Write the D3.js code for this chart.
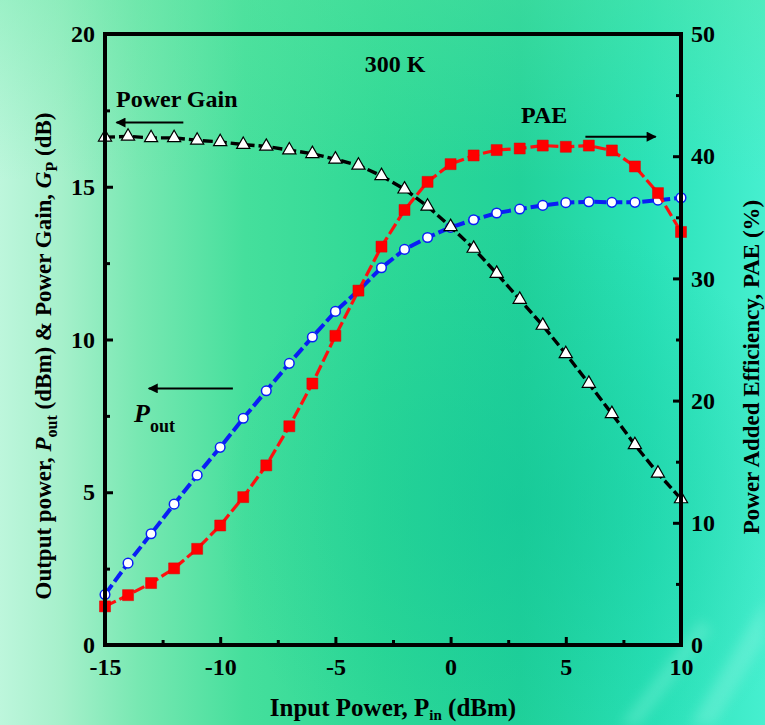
<!DOCTYPE html>
<html>
<head>
<meta charset="utf-8">
<script src="https://cdn.jsdelivr.net/npm/d3@7"></script>
<style>
  html, body { margin: 0; padding: 0; background: #3edb9a; }
  svg { display: block; font-family: "Liberation Serif", "Times New Roman", serif; font-weight: bold; }
</style>
</head>
<body>
<div id="chart"></div>
<script>
// Power amplifier sweep at 300 K

// Data
const pin = [-15, -14, -13, -12, -11, -10, -9, -8, -7, -6, -5, -4, -3, -2, -1, 0, 1, 2, 3, 4, 5, 6, 7, 8, 9, 10];
const pout = [1.65, 2.68, 3.64, 4.61, 5.56, 6.47, 7.42, 8.32, 9.22, 10.08, 10.92, 11.6, 12.35, 12.95, 13.34, 13.67,
              13.92, 14.14, 14.27, 14.39, 14.48, 14.51, 14.49, 14.49, 14.56, 14.64];
const gain = [16.62, 16.65, 16.6, 16.6, 16.52, 16.47, 16.38, 16.32, 16.2, 16.08, 15.9, 15.7, 15.36, 14.92, 14.36, 13.69,
              12.98, 12.16, 11.31, 10.46, 9.53, 8.56, 7.57, 6.55, 5.62, 4.78];
const pae = [3.16, 4.08, 5.07, 6.27, 7.87, 9.78, 12.1, 14.7, 17.9, 21.4, 25.3, 29.0, 32.6, 35.6, 37.9, 39.35,
             40.06, 40.5, 40.63, 40.87, 40.77, 40.87, 40.47, 39.16, 36.98, 33.8];

const xTicks = [-15, -10, -5, 0, 5, 10];
const xMinor = [-12.5, -7.5, -2.5, 2.5, 7.5];
const yLeftTicks = [0, 5, 10, 15, 20];
const yLeftMinor = [2.5, 7.5, 12.5, 17.5];
const yRightTicks = [0, 10, 20, 30, 40, 50];
const yRightMinor = [5, 15, 25, 35, 45];

// Setup dimensions
const width = 765, height = 725;
const plotLeft = 105, plotRight = 681, plotTop = 34, plotBottom = 645;

const svg = d3.select("#chart").append("svg")
    .attr("width", width)
    .attr("height", height);

// Background gradient
const defs = svg.append("defs");
const bg = defs.append("linearGradient").attr("id", "bg").attr("x1", 0).attr("x2", 1).attr("y1", 0).attr("y2", 0);
[["0%", "#bdf6dc"], ["8%", "#a6f0cb"], ["18%", "#78e8b2"], ["32%", "#45df9c"], ["50%", "#2ed996"],
 ["68%", "#22d29a"], ["85%", "#2ae2b8"], ["100%", "#46efcf"]]
    .forEach(s => bg.append("stop").attr("offset", s[0]).attr("stop-color", s[1]));

const dark = defs.append("radialGradient").attr("id", "dark").attr("cx", 0.68).attr("cy", 0.7).attr("r", 0.4);
dark.append("stop").attr("offset", "0%").attr("stop-color", "#10c497").attr("stop-opacity", 0.55);
dark.append("stop").attr("offset", "100%").attr("stop-color", "#10c497").attr("stop-opacity", 0);

const topGlow = defs.append("linearGradient").attr("id", "topglow").attr("x1", 0).attr("x2", 0).attr("y1", 0).attr("y2", 1);
topGlow.append("stop").attr("offset", "0%").attr("stop-color", "#5fe6a0").attr("stop-opacity", 0.35);
topGlow.append("stop").attr("offset", "25%").attr("stop-color", "#5fe6a0").attr("stop-opacity", 0);

defs.append("filter").attr("id", "blur").append("feGaussianBlur").attr("stdDeviation", 6);

svg.append("rect").attr("width", width).attr("height", height).attr("fill", "url(#bg)");
svg.append("rect").attr("width", width).attr("height", height).attr("fill", "url(#dark)");
svg.append("rect").attr("width", width).attr("height", height).attr("fill", "url(#topglow)");

// faint light streaks in the lower right corner
const streaks = svg.append("g").attr("filter", "url(#blur)").attr("opacity", 0.3);
streaks.append("path").attr("d", "M690,725 L765,600 L765,640 L715,725 Z").attr("fill", "#9ff7e6");
streaks.append("path").attr("d", "M620,725 L700,620 L712,630 L640,725 Z").attr("fill", "#8ff5df");

// Scales
const x = d3.scaleLinear().domain([-15, 10]).range([plotLeft, plotRight]);
const yL = d3.scaleLinear().domain([0, 20]).range([plotBottom, plotTop]);
const yR = d3.scaleLinear().domain([0, 50]).range([plotBottom, plotTop]);

// plain hyphen for negative numbers, like the original
const fmt = d => String(d);

// Axes with inward ticks
function styleAxis(g) {
    g.select(".domain").remove();
    g.selectAll("line").attr("stroke", "#000").attr("stroke-width", 3);
    g.selectAll("text").attr("fill", "#000").style("font-size", "24px").style("font-weight", "bold")
        .style("font-family", "'Liberation Serif', serif");
}

svg.append("g").attr("transform", `translate(0,${plotBottom})`)
    .call(d3.axisBottom(x).tickValues(xTicks).tickSize(-8).tickPadding(13).tickFormat(fmt))
    .call(styleAxis);
svg.append("g").attr("transform", `translate(0,${plotBottom})`)
    .call(d3.axisBottom(x).tickValues(xMinor).tickSize(-5).tickFormat(""))
    .call(styleAxis);

svg.append("g").attr("transform", `translate(${plotLeft},0)`)
    .call(d3.axisLeft(yL).tickValues(yLeftTicks).tickSize(-8).tickPadding(10).tickFormat(fmt))
    .call(styleAxis);
svg.append("g").attr("transform", `translate(${plotLeft},0)`)
    .call(d3.axisLeft(yL).tickValues(yLeftMinor).tickSize(-5).tickFormat(""))
    .call(styleAxis);

svg.append("g").attr("transform", `translate(${plotRight},0)`)
    .call(d3.axisRight(yR).tickValues(yRightTicks).tickSize(-8).tickPadding(10).tickFormat(fmt))
    .call(styleAxis);
svg.append("g").attr("transform", `translate(${plotRight},0)`)
    .call(d3.axisRight(yR).tickValues(yRightMinor).tickSize(-5).tickFormat(""))
    .call(styleAxis);

// Series
const series = [
    { values: pout, y: yL, color: "#0a1ef5", dash: "12,4", width: 4, marker: "circle" },
    { values: pae, y: yR, color: "#ff1010", dash: "12,4", width: 3.2, marker: "square" },
    { values: gain, y: yL, color: "#000", dash: "10,4", width: 3.4, marker: "triangle" }
];

series.forEach(s => {
    const pts = pin.map((p, i) => [p, s.values[i]]);
    const line = d3.line().x(d => x(d[0])).y(d => s.y(d[1]));

    svg.append("path")
        .datum(pts)
        .attr("d", line)
        .attr("fill", "none")
        .attr("stroke", s.color)
        .attr("stroke-width", s.width)
        .attr("stroke-dasharray", s.dash);

    const g = svg.append("g");
    if (s.marker === "circle") {
        g.selectAll("circle").data(pts).enter().append("circle")
            .attr("cx", d => x(d[0])).attr("cy", d => s.y(d[1]))
            .attr("r", 4.8)
            .attr("fill", "#fff").attr("stroke", s.color).attr("stroke-width", 1.5);
    } else if (s.marker === "square") {
        g.selectAll("path").data(pts).enter().append("path")
            .attr("d", d3.symbol(d3.symbolSquare, 121))
            .attr("transform", d => `translate(${x(d[0])},${s.y(d[1])})`)
            .attr("fill", "#ff0000").attr("stroke", "#e00000").attr("stroke-width", 0.5);
    } else {
        g.selectAll("path").data(pts).enter().append("path")
            .attr("d", d3.symbol(d3.symbolTriangle, 75))
            .attr("transform", d => `translate(${x(d[0])},${s.y(d[1])})`)
            .attr("fill", "#fff").attr("stroke", "#000").attr("stroke-width", 1.2);
    }
});

// Frame
svg.append("rect")
    .attr("x", plotLeft).attr("y", plotTop)
    .attr("width", plotRight - plotLeft).attr("height", plotBottom - plotTop)
    .attr("fill", "none").attr("stroke", "#000").attr("stroke-width", 4);

// Arrow marker
defs.append("marker")
    .attr("id", "arrow")
    .attr("viewBox", "0 0 10 10")
    .attr("refX", 9).attr("refY", 5)
    .attr("markerWidth", 7).attr("markerHeight", 5)
    .attr("markerUnits", "strokeWidth")
    .attr("orient", "auto")
    .append("path").attr("d", "M0,0 L10,5 L0,10 Z").attr("fill", "#000");

function arrow(x1, x2, yv) {
    svg.append("line")
        .attr("x1", x1).attr("x2", x2).attr("y1", yv).attr("y2", yv)
        .attr("stroke", "#000").attr("stroke-width", 2)
        .attr("marker-end", "url(#arrow)");
}
arrow(x(-11.6), x(-14.5), yL(17.1));
arrow(x(-9.45), x(-13.1), yL(8.4));
arrow(x(5.85), x(8.9), yR(41.6));

// Annotations
svg.append("text").attr("x", 395).attr("y", 72).attr("text-anchor", "middle")
    .style("font-size", "24px").text("300 K");
svg.append("text").attr("x", 116).attr("y", 107)
    .style("font-size", "24px").text("Power Gain");
svg.append("text").attr("x", 521).attr("y", 123)
    .style("font-size", "24px").text("PAE");
const pl = svg.append("text").attr("x", 134).attr("y", 422).style("font-size", "26px");
pl.append("tspan").style("font-style", "italic").text("P");
pl.append("tspan").attr("dy", 10).style("font-size", "18px").text("out");

// Axis titles
const xt = svg.append("text").attr("x", 393).attr("y", 716).attr("text-anchor", "middle")
    .style("font-size", "25px");
xt.append("tspan").text("Input Power, P");
xt.append("tspan").attr("dy", 4).style("font-size", "15px").text("in");
xt.append("tspan").attr("dy", -4).text(" (dBm)");

const ylt = svg.append("text")
    .attr("transform", `translate(43,356) rotate(-90)`)
    .attr("text-anchor", "middle")
    .attr("dy", "0.35em")
    .style("font-size", "23px");
ylt.append("tspan").text("Output power, ");
ylt.append("tspan").style("font-style", "italic").text("P");
ylt.append("tspan").attr("dy", 6).style("font-size", "16px").text("out");
ylt.append("tspan").attr("dy", -6).text(" (dBm) & Power Gain, ");
ylt.append("tspan").style("font-style", "italic").text("G");
ylt.append("tspan").attr("dy", 6).style("font-size", "16px").text("P");
ylt.append("tspan").attr("dy", -6).text(" (dB)");

svg.append("text")
    .attr("transform", `translate(751,367) rotate(-90)`)
    .attr("text-anchor", "middle")
    .attr("dy", "0.35em")
    .style("font-size", "23px")
    .text("Power Added Efficiency, PAE (%)");
</script>
</body>
</html>
